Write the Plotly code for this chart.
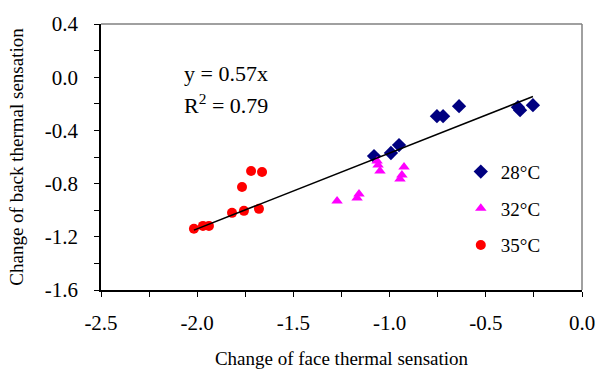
import plotly.graph_objects as go

# 28°C
x28 = [-1.081, -0.993, -0.951, -0.754, -0.722, -0.639, -0.333, -0.322, -0.255]
y28 = [-0.593, -0.570, -0.510, -0.293, -0.293, -0.218, -0.225, -0.248, -0.210]
# 32°C
x32 = [-1.273, -1.169, -1.159, -1.065, -1.060, -1.050, -0.925, -0.936, -0.946]
y32 = [-0.930, -0.908, -0.878, -0.630, -0.660, -0.705, -0.675, -0.735, -0.765]
# 35°C
x35 = [-2.017, -1.970, -1.939, -1.819, -1.757, -1.679, -1.767, -1.720, -1.663]
y35 = [-1.140, -1.118, -1.118, -1.020, -1.005, -0.990, -0.825, -0.705, -0.713]

slope = 0.57
labels = ["28°C", "32°C", "35°C"]
colors = ["#000080", "#FF00FF", "#FF0000"]
symbols = ["diamond", "triangle-up", "circle"]
sizes = [11, 10, 10]

FONT = "Liberation Serif"

fig = go.Figure()
for xs, ys, lab, col, sym, sz in zip([x28, x32, x35], [y28, y32, y35], labels, colors, symbols, sizes):
    fig.add_trace(go.Scatter(x=xs, y=ys, mode="markers", name=lab, legendgroup=lab,
                             marker=dict(color=col, symbol=sym, size=sz, line=dict(width=0))))

allx = x28 + x32 + x35
xmin, xmax = min(allx), max(allx)
fig.add_trace(go.Scatter(x=[xmin, xmax], y=[slope * xmin, slope * xmax], mode="lines",
                         line=dict(color="black", width=1.5), showlegend=False, hoverinfo="skip"))

fig.add_annotation(x=-2.079, y=0.027, xref="x", yref="y", text="y = 0.57x", showarrow=False,
                   xanchor="left", yanchor="middle", font=dict(family=FONT, size=22, color="black"))
fig.add_annotation(x=-2.079, y=-0.203, xref="x", yref="y", text="R<sup>2</sup> = 0.79", showarrow=False,
                   xanchor="left", yanchor="middle", font=dict(family=FONT, size=22, color="black"))

# gray top and right borders
fig.add_shape(type="line", xref="paper", yref="paper", x0=0, x1=1, y0=1, y1=1,
              line=dict(color="#808080", width=1.5))
fig.add_shape(type="line", xref="paper", yref="paper", x0=1, x1=1, y0=0, y1=1,
              line=dict(color="#808080", width=1.5))

fig.update_layout(
    width=595, height=374,
    margin=dict(l=101, r=13, t=24, b=84),
    paper_bgcolor="white", plot_bgcolor="white",
    font=dict(family=FONT, size=19, color="black"),
    showlegend=True,
    legend=dict(x=0.748, y=0.516, xanchor="left", yanchor="top", bgcolor="rgba(0,0,0,0)",
                tracegroupgap=9, font=dict(family=FONT, size=19), itemwidth=30),
    xaxis=dict(range=[-2.5, 0.0], tickvals=[-2.5, -2.0, -1.5, -1.0, -0.5, 0.0],
               ticktext=["-2.5", "-2.0", "-1.5", "-1.0", "-0.5", "0.0"],
               ticks="outside", ticklen=5, tickcolor="black", showline=True, linecolor="black",
               linewidth=1.5, showgrid=False, zeroline=False, ticklabelstandoff=8,
               ticklabeloverflow="allow", automargin=False,
               minor=dict(dtick=0.25, ticks="outside", ticklen=5, tickcolor="black", showgrid=False),
               title=dict(text="Change of face thermal sensation", standoff=18,
                          font=dict(family=FONT, size=19)),
               tickfont=dict(family=FONT, size=21)),
    yaxis=dict(range=[-1.6, 0.4], tickvals=[-1.6, -1.2, -0.8, -0.4, 0.0, 0.4],
               ticktext=["-1.6", "-1.2", "-0.8", "-0.4", "0.0", "0.4"],
               ticks="outside", ticklen=5, tickcolor="black", showline=True, linecolor="black",
               linewidth=1.5, showgrid=False, zeroline=False, ticklabelstandoff=12,
               ticklabeloverflow="allow", automargin=False,
               minor=dict(dtick=0.2, ticks="outside", ticklen=5, tickcolor="black", showgrid=False),
               title=dict(text="Change of back thermal sensation", standoff=16,
                          font=dict(family=FONT, size=19)),
               tickfont=dict(family=FONT, size=21)),
)

fig.write_html("out.html")
